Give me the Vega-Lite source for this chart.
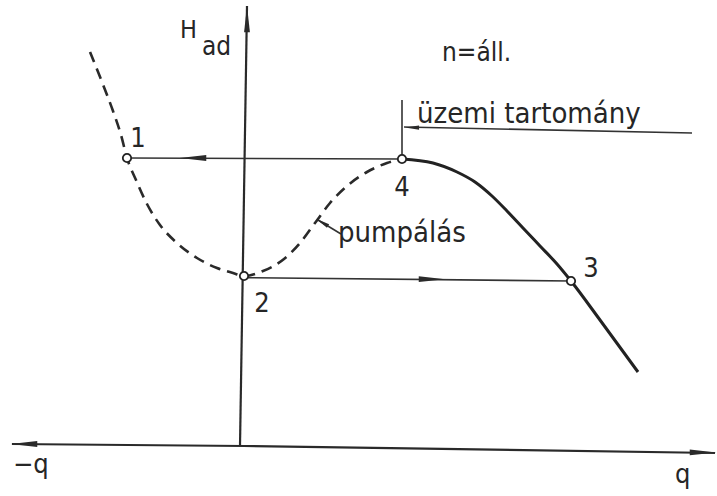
{
  "$schema": "https://vega.github.io/schema/vega-lite/v6.json",
  "width": 717,
  "height": 496,
  "autosize": {"type": "none"},
  "padding": 0,
  "background": "white",
  "config": {
    "view": {"stroke": null},
    "text": {"font": "DejaVu Sans Condensed", "color": "#262626", "baseline": "alphabetic"}
  },
  "datasets": {
    "tengelyek": [
      {"szakasz": "q", "i": 0, "q": -5.8, "H": 0},
      {"szakasz": "q", "i": 1, "q": 0, "H": -0.05},
      {"szakasz": "q", "i": 2, "q": 11.775, "H": -0.225},
      {"szakasz": "H", "i": 0, "q": 0.075, "H": 10.95},
      {"szakasz": "H", "i": 1, "q": -0.1, "H": -0.05}
    ],
    "vonalak": [
      {"szakasz": "4-1", "i": 0, "q": 3.95, "H": 7.125},
      {"szakasz": "4-1", "i": 1, "q": -2.925, "H": 7.15},
      {"szakasz": "2-3", "i": 0, "q": 0, "H": 4.16},
      {"szakasz": "2-3", "i": 1, "q": 8.175, "H": 4.075},
      {"szakasz": "hatar", "i": 0, "q": 3.95, "H": 8.6},
      {"szakasz": "hatar", "i": 1, "q": 3.95, "H": 7.125},
      {"szakasz": "tartomany", "i": 0, "q": 4.0, "H": 7.925},
      {"szakasz": "tartomany", "i": 1, "q": 11.2, "H": 7.775},
      {"szakasz": "mutato", "i": 0, "q": 2.425, "H": 5.25},
      {"szakasz": "mutato", "i": 1, "q": 1.85, "H": 5.6}
    ],
    "pumpalas": [
      {"q": -3.85, "H": 9.8},
      {"q": -3.55, "H": 9.05},
      {"q": -3.275, "H": 8.325},
      {"q": -3.075, "H": 7.725},
      {"q": -2.925, "H": 7.15},
      {"q": -2.7, "H": 6.6},
      {"q": -2.425, "H": 6.0},
      {"q": -2.1, "H": 5.475},
      {"q": -1.675, "H": 5.025},
      {"q": -1.175, "H": 4.65},
      {"q": -0.675, "H": 4.4},
      {"q": -0.275, "H": 4.275},
      {"q": 0, "H": 4.2},
      {"q": 0.475, "H": 4.325},
      {"q": 1.0, "H": 4.625},
      {"q": 1.4, "H": 5.025},
      {"q": 1.775, "H": 5.525},
      {"q": 2.15, "H": 6.025},
      {"q": 2.575, "H": 6.45},
      {"q": 3.075, "H": 6.8},
      {"q": 3.575, "H": 7.025},
      {"q": 3.95, "H": 7.125}
    ],
    "jelleggorbe": [
      {"q": 3.95, "H": 7.125},
      {"q": 4.725, "H": 7.025},
      {"q": 5.325, "H": 6.8},
      {"q": 5.775, "H": 6.55},
      {"q": 6.2, "H": 6.2},
      {"q": 6.575, "H": 5.825},
      {"q": 6.975, "H": 5.4},
      {"q": 7.4, "H": 4.95},
      {"q": 7.825, "H": 4.5},
      {"q": 8.175, "H": 4.075},
      {"q": 8.9, "H": 3.1},
      {"q": 9.85, "H": 1.8}
    ],
    "allapotok": [
      {"pont": "1", "q": -2.925, "H": 7.15},
      {"pont": "2", "q": 0, "H": 4.2},
      {"pont": "3", "q": 8.175, "H": 4.075},
      {"pont": "4", "q": 3.95, "H": 7.125}
    ],
    "nyilak": [
      {"tipus": "nagy", "q": -1.275, "H": 7.15, "irany": 270},
      {"tipus": "nagy", "q": 4.7, "H": 4.12, "irany": 90},
      {"tipus": "nagy", "q": 0.075, "H": 10.625, "irany": 0},
      {"tipus": "nagy", "q": -5.5, "H": 0, "irany": 270},
      {"tipus": "nagy", "q": 11.475, "H": -0.21, "irany": 90},
      {"tipus": "kicsi", "q": 4.2, "H": 7.91, "irany": 270},
      {"tipus": "kicsi", "q": 1.95, "H": 5.54, "irany": 301}
    ],
    "pontfeliratok": [
      {"szoveg": "1", "q": -2.65, "H": 7.425},
      {"szoveg": "2", "q": 0.45, "H": 3.3},
      {"szoveg": "3", "q": 8.675, "H": 4.175},
      {"szoveg": "4", "q": 3.95, "H": 6.2}
    ]
  },
  "encoding": {
    "x": {"field": "q", "type": "quantitative", "scale": {"domain": [-6.1, 11.825], "nice": false, "zero": false}, "axis": null},
    "y": {"field": "H", "type": "quantitative", "scale": {"domain": [-1.3, 11.1], "nice": false, "zero": false}, "axis": null}
  },
  "layer": [
    {
      "data": {"name": "tengelyek"},
      "mark": {"type": "line", "color": "#2a2a2a", "strokeWidth": 2.2},
      "encoding": {"detail": {"field": "szakasz"}, "order": {"field": "i"}}
    },
    {
      "data": {"name": "vonalak"},
      "mark": {"type": "line", "color": "#333333", "strokeWidth": 1.6},
      "encoding": {"detail": {"field": "szakasz"}, "order": {"field": "i"}}
    },
    {
      "data": {"name": "pumpalas"},
      "mark": {"type": "line", "color": "#2a2a2a", "strokeWidth": 2.6, "strokeDash": [11, 7], "interpolate": "monotone"},
      "encoding": {}
    },
    {
      "data": {"name": "jelleggorbe"},
      "mark": {"type": "line", "color": "#222222", "strokeWidth": 3, "interpolate": "monotone"},
      "encoding": {}
    },
    {
      "data": {"name": "nyilak"},
      "transform": [{"filter": "datum.tipus === 'nagy'"}],
      "mark": {"type": "point", "shape": "M0,-1L0.22,1L-0.22,1Z", "filled": true, "color": "#2a2a2a", "size": 700, "opacity": 1},
      "encoding": {"angle": {"field": "irany", "type": "quantitative", "scale": null}}
    },
    {
      "data": {"name": "nyilak"},
      "transform": [{"filter": "datum.tipus === 'kicsi'"}],
      "mark": {"type": "point", "shape": "M0,-1L0.3,1L-0.3,1Z", "filled": true, "color": "#2a2a2a", "size": 200, "opacity": 1},
      "encoding": {"angle": {"field": "irany", "type": "quantitative", "scale": null}}
    },
    {
      "data": {"name": "allapotok"},
      "mark": {"type": "point", "shape": "circle", "filled": true, "fill": "white", "stroke": "#222222", "strokeWidth": 1.8, "size": 70, "opacity": 1},
      "encoding": {}
    },
    {
      "data": {"name": "pontfeliratok"},
      "mark": {"type": "text", "fontSize": 27, "align": "center"},
      "encoding": {"text": {"field": "szoveg"}}
    },
    {
      "data": {"values": [
        {"szoveg": "H", "q": -1.6, "H": 10.15}
      ]},
      "mark": {"type": "text", "fontSize": 25, "align": "left"},
      "encoding": {"text": {"field": "szoveg"}}
    },
    {
      "data": {"values": [
        {"szoveg": "−q", "q": -5.775, "H": -0.725},
        {"szoveg": "q", "q": 10.775, "H": -0.975}
      ]},
      "mark": {"type": "text", "fontSize": 27, "align": "left"},
      "encoding": {"text": {"field": "szoveg"}}
    },
    {
      "data": {"values": [
        {"szoveg": "ad", "q": -1.05, "H": 9.725},
        {"szoveg": "n=áll.", "q": 4.95, "H": 9.575}
      ]},
      "mark": {"type": "text", "fontSize": 26, "align": "left"},
      "encoding": {"text": {"field": "szoveg"}}
    },
    {
      "data": {"values": [
        {"szoveg": "üzemi tartomány", "q": 4.325, "H": 8.025},
        {"szoveg": "pumpálás", "q": 2.35, "H": 5.05}
      ]},
      "mark": {"type": "text", "fontSize": 29, "align": "left"},
      "encoding": {"text": {"field": "szoveg"}}
    }
  ]
}
